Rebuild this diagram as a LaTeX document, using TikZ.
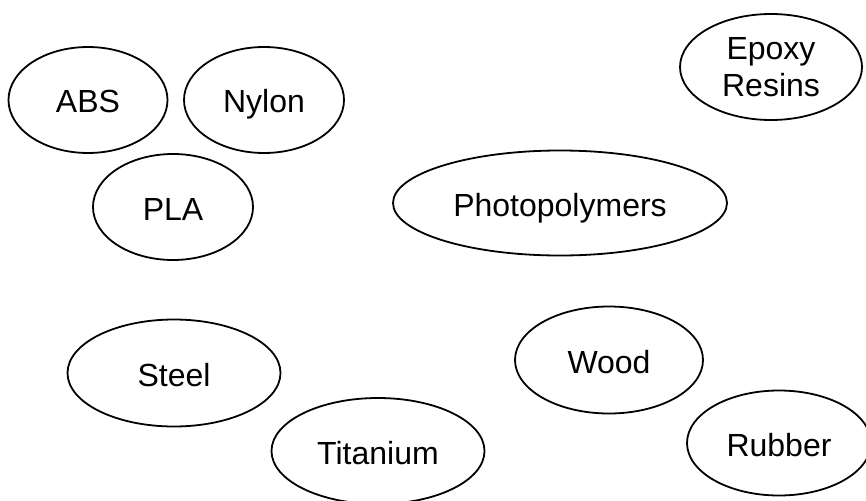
\documentclass[tikz,border=0pt]{standalone}
\usepackage{fontspec}
\setmainfont{Liberation Sans}
\usetikzlibrary{shapes.geometric}
\begin{document}
\begin{tikzpicture}[x=1pt,y=-1pt,
  mat/.style={ellipse, draw=black, line width=1.8pt, inner sep=0pt,
    font=\fontsize{32}{37}\selectfont, align=center},
  one/.style={text height=32pt, text depth=6pt}]
\useasboundingbox (0,0) rectangle (866,500);
\begin{scope}
\clip (0,0) rectangle (866,500);
\node[mat, one, minimum width=159, minimum height=106] (abs) at (88,100) {ABS};
\node[mat, one, minimum width=160, minimum height=106] (nylon) at (264,100) {Nylon};
\node[mat, one, minimum width=160, minimum height=106] (pla) at (173,207) {PLA};
\node[mat, one, minimum width=334, minimum height=105] (photo) at (560,203) {Photopolymers};
\node[mat, minimum width=182, minimum height=106] (epoxy) at (771,67) {Epoxy\\Resins};
\node[mat, one, minimum width=213, minimum height=107] (steel) at (174,373) {Steel};
\node[mat, one, minimum width=213, minimum height=106] (titanium) at (378,451) {Titanium};
\node[mat, one, minimum width=188, minimum height=107] (wood) at (609,360) {Wood};
\node[mat, one, minimum width=184, minimum height=105] (rubber) at (779,443) {Rubber};
\end{scope}
\end{tikzpicture}
\end{document}
